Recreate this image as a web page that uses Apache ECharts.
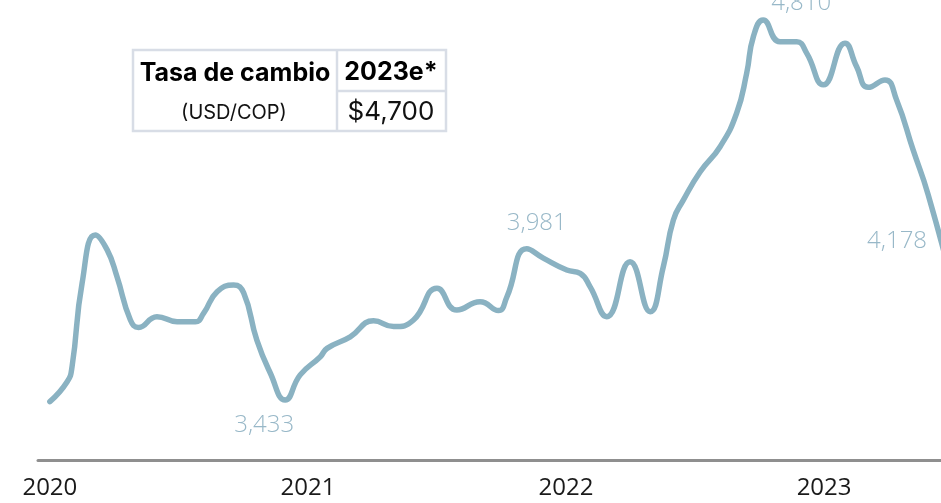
<!DOCTYPE html>
<html lang="es">
<head>
  <meta charset="utf-8">
  <title>Tasa de cambio USD/COP</title>
  <script src="https://cdn.jsdelivr.net/npm/echarts@6.0.0/dist/echarts.min.js"></script>
  <style>
    html, body { margin: 0; padding: 0; background: #fff; }
    #chart { width: 941px; height: 503px; }
  </style>
</head>
<body>
<div id="chart"></div>
<script>
// fecha (año decimal) y tasa USD/COP
var fechas = [
  2020.000, 2020.067, 2020.086, 2020.125, 2020.176, 2020.222, 2020.260, 2020.312,
  2020.344, 2020.415, 2020.493, 2020.564, 2020.596, 2020.648, 2020.712, 2020.751,
  2020.802, 2020.854, 2020.912, 2020.970, 2021.048, 2021.074, 2021.164, 2021.254,
  2021.332, 2021.409, 2021.500, 2021.577, 2021.667, 2021.738, 2021.771, 2021.848,
  2021.912, 2022.003, 2022.055, 2022.093, 2022.158, 2022.248, 2022.326, 2022.377,
  2022.416, 2022.455, 2022.520, 2022.597, 2022.661, 2022.700, 2022.726, 2022.764,
  2022.829, 2022.894, 2022.933, 2022.997, 2023.081, 2023.126, 2023.171, 2023.236,
  2023.281, 2023.345, 2023.403, 2023.500
];
var tasa = [
  3427, 3499, 3554, 3857, 4031, 3977, 3880, 3723,
  3696, 3735, 3717, 3717, 3748, 3825, 3850, 3821,
  3650, 3531, 3433, 3524, 3590, 3620, 3662, 3720,
  3699, 3723, 3838, 3759, 3789, 3757, 3807, 3981,
  3947, 3904, 3892, 3844, 3735, 3934, 3753, 3916,
  4085, 4158, 4260, 4351, 4472, 4617, 4750, 4810,
  4731, 4731, 4689, 4575, 4726, 4641, 4566, 4593,
  4520, 4339, 4178, 3840
];
var anios = [2020, 2021, 2022, 2023];

// puntos con etiqueta: índice, texto, desplazamiento
var etiquetas = [
  { i: 18, texto: '3,433', off: [-21, 25] },
  { i: 31, texto: '3,981', off: [10, -26] },
  { i: 47, texto: '4,810', off: [38, -17] },
  { i: 58, texto: '4,178', off: [-31, 47] }
];

var lineColor = '#8ab2c2';
var labelColor = '#98b8c8';

var data = fechas.map(function (f, k) {
  return { value: [f, tasa[k]] };
});
etiquetas.forEach(function (e) {
  data[e.i].label = {
    show: true,
    position: 'inside',
    offset: e.off,
    formatter: e.texto,
    color: labelColor,
    fontSize: 24,
    fontWeight: 300,
    fontFamily: 'Open Sans'
  };
});

var chart = echarts.init(document.getElementById('chart'));

var borde = { stroke: '#d8dde6', lineWidth: 2.5 };

var option = {
  animation: false,
  grid: { left: 38, right: 0, top: 0, bottom: 43 },
  xAxis: {
    type: 'value',
    min: 2019.954,
    max: 2023.453,
    splitLine: { show: false },
    axisTick: { show: false },
    axisLine: { show: true, lineStyle: { color: '#8f8f8f', width: 3 } },
    axisLabel: {
      customValues: anios,
      formatter: function (v) { return String(v); },
      color: '#1a1a1a',
      fontSize: 24,
      fontFamily: 'Open Sans',
      margin: 16
    }
  },
  yAxis: {
    type: 'value',
    min: 3215.6,
    max: 4882.5,
    show: false,
    splitLine: { show: false }
  },
  series: [{
    type: 'line',
    data: data,
    smooth: 0.5,
    clip: true,
    symbol: 'circle',
    symbolSize: 0,
    showSymbol: true,
    lineStyle: { color: lineColor, width: 5.5, cap: 'round', join: 'round' },
    itemStyle: { color: lineColor },
    label: { show: false }
  }],
  graphic: [
    { type: 'rect', shape: { x: 133, y: 50, width: 313, height: 81 }, style: { fill: 'none', stroke: borde.stroke, lineWidth: borde.lineWidth } },
    { type: 'line', shape: { x1: 337, y1: 50, x2: 337, y2: 131 }, style: { stroke: borde.stroke, lineWidth: borde.lineWidth } },
    { type: 'line', shape: { x1: 337, y1: 91, x2: 446, y2: 91 }, style: { stroke: borde.stroke, lineWidth: borde.lineWidth } },
    { type: 'text', x: 235, y: 73, style: { text: 'Tasa de cambio', fill: '#000', font: 'bold 25px Inter', align: 'center', verticalAlign: 'middle' } },
    { type: 'text', x: 391, y: 72, style: { text: '2023e*', fill: '#000', font: 'bold 25px Inter', align: 'center', verticalAlign: 'middle' } },
    { type: 'text', x: 234, y: 113, style: { text: '(USD/COP)', fill: '#111', font: '20px Inter', align: 'center', verticalAlign: 'middle' } },
    { type: 'text', x: 391, y: 112, style: { text: '$4,700', fill: '#111', font: '26px Inter', align: 'center', verticalAlign: 'middle' } }
  ]
};

chart.setOption(option);
</script>
</body>
</html>
